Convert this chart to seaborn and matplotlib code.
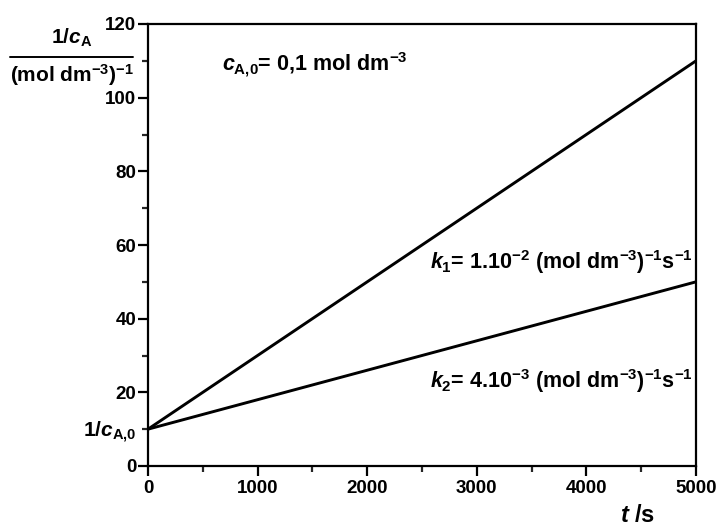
import matplotlib
matplotlib.use("Agg")
import matplotlib.pyplot as plt
from matplotlib.lines import Line2D
from matplotlib.ticker import MultipleLocator
import numpy as np
import pandas as pd
import seaborn as sns

# Second-order kinetics: 1/c_A grows linearly with time
time_s = [0, 5000]
inv_c_k1 = [10, 110]
inv_c_k2 = [10, 50]
series_names = ["k1", "k2"]
x_ticks = [0, 1000, 2000, 3000, 4000, 5000]
y_ticks = [0, 20, 40, 60, 80, 100, 120]

df = pd.DataFrame({
    "t": time_s * 2,
    "inv_c": inv_c_k1 + inv_c_k2,
    "series": [series_names[0]] * len(time_s) + [series_names[1]] * len(time_s),
})

sns.set_theme(style="ticks")
plt.rcParams["font.family"] = ["Liberation Sans", "DejaVu Sans"]
plt.rcParams["font.weight"] = "bold"
plt.rcParams["mathtext.fontset"] = "custom"
plt.rcParams["mathtext.rm"] = "Liberation Sans:bold"
plt.rcParams["mathtext.bf"] = "Liberation Sans:bold"
plt.rcParams["mathtext.it"] = "Liberation Sans:bold:italic"
plt.rcParams["mathtext.default"] = "rm"

W, H = 721, 529
fig = plt.figure(figsize=(W / 100, H / 100), dpi=100)
ax = fig.add_axes([148 / W, 1 - 466 / H, (696 - 148) / W, (466 - 24) / H])

sns.lineplot(data=df, x="t", y="inv_c", hue="series", units="series",
             estimator=None, palette=["black", "black"], linewidth=2.1,
             legend=False, ax=ax)

ax.set_xlim(0, 5000)
ax.set_ylim(0, 120)
ax.set_xticks(x_ticks)
ax.set_yticks(y_ticks)
ax.xaxis.set_minor_locator(MultipleLocator(500))
ax.yaxis.set_minor_locator(MultipleLocator(10))
ax.set_xlabel("")
ax.set_ylabel("")

for s in ax.spines.values():
    s.set_linewidth(1.6)
    s.set_color("black")

ax.tick_params(axis="both", which="major", direction="out", length=7, width=1.6,
               labelsize=13.5, pad=1.5, colors="black")
ax.tick_params(axis="both", which="minor", direction="out", length=4, width=1.6)
ax.tick_params(axis="x", which="major", pad=3)
ax.tick_params(right=True, top=True, which="both")
for lbl in ax.get_xticklabels() + ax.get_yticklabels():
    lbl.set_fontweight("bold")

# tiny marks on the top and right frame
for t in ax.yaxis.get_major_ticks() + ax.yaxis.get_minor_ticks():
    t.tick2line.set_markersize(2)
    t.tick2line.set_marker("_")
for t in ax.xaxis.get_major_ticks() + ax.xaxis.get_minor_ticks():
    t.tick2line.set_markersize(1)
    t.tick2line.set_markeredgecolor("#bbbbbb")

txt = dict(fontweight="bold", color="black")
ax.text(676, 109, r"$\mathit{c}_{\mathrm{A{,}0}}$= 0,1 mol dm$^{-3}$", ha="left", va="center", fontsize=15.5, **txt)
ax.text(2570, 55.5, r"$\mathit{k}_{1}$= 1.10$^{-2}$ (mol dm$^{-3}$)$^{-1}$s$^{-1}$", ha="left", va="center", fontsize=15.5, **txt)
ax.text(2570, 23, r"$\mathit{k}_{2}$= 4.10$^{-3}$ (mol dm$^{-3}$)$^{-1}$s$^{-1}$", ha="left", va="center", fontsize=15.5, **txt)

# initial value marker on the y axis
fig.text(136 / W, 1 - 432 / H, r"1/$\mathit{c}_{\mathrm{A{,}0}}$", ha="right", va="center", fontsize=15, **txt)

# y-axis quantity written as a fraction
fig.text(72 / W, 1 - 38 / H, r"1/$\mathit{c}_{\mathrm{A}}$", ha="center", va="center", fontsize=15, **txt)
fig.add_artist(Line2D([10 / W, 133 / W], [1 - 57 / H, 1 - 57 / H], color="black", linewidth=1.4))
fig.text(72 / W, 1 - 75 / H, r"(mol dm$^{-3}$)$^{-1}$", ha="center", va="center", fontsize=15, **txt)

# x-axis quantity
fig.text(638 / W, 1 - 516 / H, r"$\mathit{t}$ /s", ha="center", va="center", fontsize=17, **txt)

fig.savefig("out.png", dpi=100)
